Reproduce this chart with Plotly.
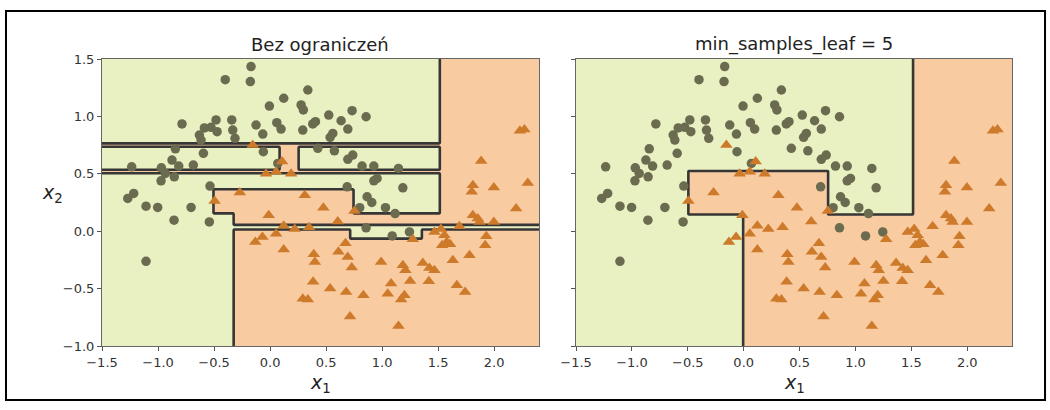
import numpy as np
import plotly.graph_objects as go

# ---------------- data ----------------
class0_x1 = [-0.17, -0.176, -0.40, 0.337, 0.122, -0.006, 0.277, 0.297, -0.786, -0.482,
             -0.342, -0.125, 0.06, 0.098, 0.292, 0.381, 0.405, -0.586, -0.527, -0.473,
             -0.631, -0.616, -0.333, -0.313, -0.065, -0.845, -0.595, -0.06, 0.426, -0.875,
             -0.815, -0.685, -1.235, -0.97, -0.935, -0.855, -0.973, 0.069, -0.536, -1.217,
             -1.27, -1.107, -1.003, -0.705, -0.857, -0.542, -1.107, 0.908, 0.866, 0.80,
             1.03, 1.116, 0.857, 1.09, 1.244, 0.732, 0.857, 0.524, 0.634, 0.694,
             0.56, 0.536, 0.574, 0.738, 0.694, 0.821, 0.926, 1.146, 0.955, 0.926,
             1.185, 0.688]
class0_x2 = [1.434, 1.303, 1.32, 1.23, 1.158, 1.09, 1.10, 1.056, 0.934, 0.969,
             0.969, 0.925, 0.945, 0.89, 0.881, 0.934, 0.954, 0.90, 0.905, 0.867,
             0.838, 0.794, 0.881, 0.809, 0.846, 0.718, 0.678, 0.692, 0.722, 0.62,
             0.567, 0.576, 0.561, 0.552, 0.503, 0.474, 0.439, 0.59, 0.393, 0.329,
             0.285, 0.218, 0.207, 0.207, 0.096, 0.081, -0.262, 0.25, 0.30, 0.205,
             0.205, 0.154, 0.029, -0.041, -0.006, 1.05, 0.997, 1.012, 0.962, 0.89,
             0.852, 0.818, 0.70, 0.663, 0.626, 0.567, 0.567, 0.547, 0.46, 0.439,
             0.378, 0.387]

class1_x1 = [-0.155, 0.107, -0.036, 0.054, 0.188, -0.27, 0.31, -0.495, -0.012, 0.122,
             0.22, 0.348, 0.054, -0.068, -0.132, 0.122, 0.39, 0.40, 0.384, 0.292,
             0.337, 0.476, 0.753, 2.196, 1.81, 1.854, 1.869, 1.997, 1.69, 0.604,
             1.467, 1.525, 1.274, 1.556, 1.577, 1.536, 1.607, 1.93, 1.92, 0.673,
             0.61, 0.693, 0.729, 0.991, 1.185, 1.208, 1.363, 1.422, 1.467, 1.631,
             1.78, 0.536, 0.679, 0.833, 1.08, 1.05, 1.25, 1.417, 1.199, 1.17,
             1.667, 1.741, 0.714, 1.146, 2.23, 2.27, 1.884, 1.81, 1.80, 1.997, 2.30]
class1_x2 = [0.75, 0.608, 0.50, 0.518, 0.50, 0.338, 0.314, 0.264, 0.14, 0.048,
             0.02, 0.035, -0.023, -0.05, -0.093, -0.16, -0.20, -0.268, -0.44, -0.588,
             -0.596, 0.205, 0.176, 0.197, 0.14, 0.11, 0.081, 0.081, 0.044, 0.084,
             -0.006, 0.02, -0.07, -0.035, -0.093, -0.122, -0.113, -0.044, -0.122, -0.105,
             -0.18, -0.224, -0.317, -0.268, -0.297, -0.34, -0.276, -0.32, -0.34, -0.253,
             -0.209, -0.50, -0.53, -0.558, -0.456, -0.544, -0.434, -0.436, -0.558, -0.596,
             -0.471, -0.53, -0.742, -0.826, 0.875, 0.885, 0.611, 0.40, 0.343, 0.381, 0.42]

# decision regions (x1_min, x1_max, x2_min, x2_max)
left_class1_boxes = [
    (1.52, 2.4, -1.0, 1.5),
    (-0.33, 2.4, -1.0, 0.02),
    (-0.50, 0.745, 0.155, 0.37),
    (-0.33, 1.52, 0.055, 0.155),
    (-1.5, 1.52, 0.738, 0.762),
    (-1.5, 1.52, 0.505, 0.532),
    (0.09, 0.25, 0.505, 0.762),
]
left_class0_boxes = [
    (-0.33, 2.4, 0.02, 0.055),
    (0.72, 1.35, -0.06, 0.02),
]
right_class1_boxes = [
    (1.52, 2.4, -1.0, 1.5),
    (-0.01, 1.52, -1.0, 0.15),
    (-0.49, 0.755, 0.15, 0.525),
]
right_class0_boxes = []

axes_limits = [-1.5, 2.4, -1.0, 1.5]
x_ticks = [-1.5, -1.0, -0.5, 0.0, 0.5, 1.0, 1.5, 2.0]
y_ticks = [-1.0, -0.5, 0.0, 0.5, 1.0, 1.5]
titles = ["Bez ograniczeń", "min_samples_leaf = 5"]

# ---------------- styles ----------------
GREEN = "#e9f0c2"
ORANGE = "#f9cba1"
C0 = "#6b6b50"
C1 = "#cd7a2b"
LINE = "#363636"
FONT = "DejaVu Sans"


def fmt(v):
    return f"{v:.1f}".replace("-", "\u2212")


gx = np.linspace(axes_limits[0], axes_limits[1], 391)
gy = np.linspace(axes_limits[2], axes_limits[3], 251)


def predict(c1_boxes, c0_boxes):
    X, Y = np.meshgrid(gx, gy)
    Z = np.zeros_like(X)
    for a, b, c, d in c1_boxes:
        Z[(X >= a) & (X <= b) & (Y >= c) & (Y <= d)] = 1
    for a, b, c, d in c0_boxes:
        Z[(X >= a) & (X <= b) & (Y >= c) & (Y <= d)] = 0
    return Z


fig = go.Figure()
panels = [("x", "y", left_class1_boxes, left_class0_boxes),
          ("x2", "y2", right_class1_boxes, right_class0_boxes)]
for xa, ya, c1b, c0b in panels:
    fig.add_trace(go.Contour(
        x=gx, y=gy, z=predict(c1b, c0b), zmin=0, zmax=1,
        autocontour=False,
        contours=dict(start=0.5, end=0.5, size=1, coloring="fill", showlines=True),
        line=dict(color=LINE, width=2.6, smoothing=0),
        colorscale=[[0, GREEN], [1, ORANGE]], showscale=False,
        hoverinfo="skip", xaxis=xa, yaxis=ya))
    fig.add_trace(go.Scatter(
        x=class0_x1, y=class0_x2, mode="markers",
        marker=dict(symbol="circle", size=9.5, color=C0, line=dict(width=0)),
        xaxis=xa, yaxis=ya, showlegend=False))
    fig.add_trace(go.Scatter(
        x=class1_x1, y=class1_x2, mode="markers",
        marker=dict(symbol="triangle-up", size=11, color=C1, line=dict(width=0)),
        xaxis=xa, yaxis=ya, showlegend=False))

axis_common = dict(
    ticks="outside", ticklen=4, tickwidth=1, tickcolor="#555",
    showline=True, mirror=True, linecolor="#666", linewidth=1,
    showgrid=False, zeroline=False,
    tickfont=dict(family=FONT, size=13, color="#333"),
)
xdom_l = [0, 0.4802]
xdom_r = [0.5209, 1.0]
fig.update_layout(
    width=1050, height=410,
    margin=dict(l=102, r=38, t=59, b=64),
    paper_bgcolor="white", plot_bgcolor="white",
    showlegend=False,
    xaxis=dict(domain=xdom_l, range=axes_limits[:2], anchor="y",
               tickvals=x_ticks, ticktext=[fmt(v) for v in x_ticks], **axis_common),
    yaxis=dict(domain=[0, 1], range=axes_limits[2:], anchor="x",
               tickvals=y_ticks, ticktext=[fmt(v) for v in y_ticks], **axis_common),
    xaxis2=dict(domain=xdom_r, range=axes_limits[:2], anchor="y2",
                tickvals=x_ticks, ticktext=[fmt(v) for v in x_ticks], **axis_common),
    yaxis2=dict(domain=[0, 1], range=axes_limits[2:], anchor="x2",
                tickvals=y_ticks, showticklabels=False, **axis_common),
)

annotations = []
for dom, title in zip([xdom_l, xdom_r], titles):
    cx = (dom[0] + dom[1]) / 2
    annotations.append(dict(text=title, x=cx, y=1.052, xref="paper", yref="paper",
                            xanchor="center", yanchor="middle", showarrow=False,
                            font=dict(family=FONT, size=18, color="#222")))
    annotations.append(dict(text="<i>x</i><sub>1</sub>", x=cx, y=-0.13,
                            xref="paper", yref="paper", xanchor="center",
                            yanchor="middle", showarrow=False,
                            font=dict(family=FONT, size=19, color="#222")))
annotations.append(dict(text="<i>x</i><sub>2</sub>", x=-0.054, y=0.53,
                        xref="paper", yref="paper", xanchor="center",
                        yanchor="middle", showarrow=False,
                        font=dict(family=FONT, size=19, color="#222")))
fig.update_layout(annotations=annotations)

# outer frame of the figure
fig.add_shape(type="rect", xref="paper", yref="paper",
              x0=-0.1055, x1=1.0363, y0=-0.188, y1=1.167,
              line=dict(color="black", width=2), fillcolor="rgba(0,0,0,0)")

fig.write_html("out.html", config={"displayModeBar": False},
               post_script="document.body.style.margin='0';")
